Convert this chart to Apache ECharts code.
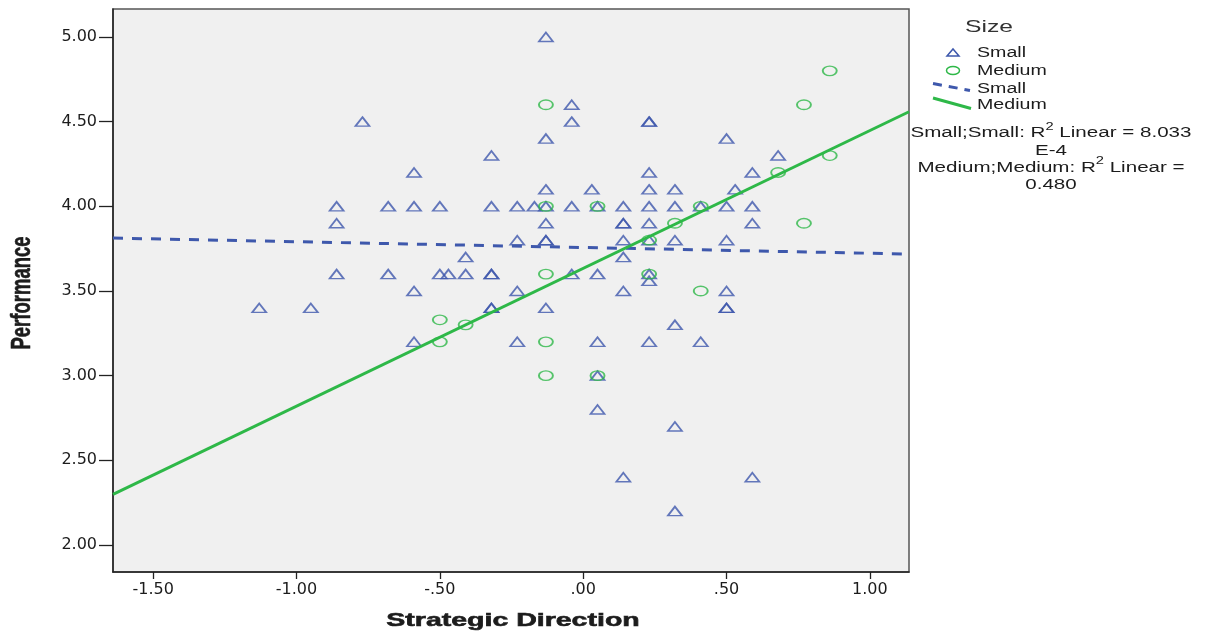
<!DOCTYPE html>
<html>
<head>
<meta charset="utf-8">
<script src="https://cdn.jsdelivr.net/npm/echarts@6/dist/echarts.min.js"></script>
<style>
html,body{margin:0;padding:0;background:#fff;}
#chart{width:1210px;height:633px;}
</style>
</head>
<body>
<div id="chart"></div>
<script>
// ---- data ----
const xTicks = [-1.5, -1.0, -0.5, 0.0, 0.5, 1.0];
const yTicks = [2.0, 2.5, 3.0, 3.5, 4.0, 4.5, 5.0];
const xRange = [-1.640, 1.1364];
const yRange = [1.8406, 5.1654];

// Size = Small (triangles)
const smallPoints = [
  [-0.13, 5.0],
  [-0.04, 4.6],
  [-0.77, 4.5], [-0.04, 4.5], [0.23, 4.5], [0.23, 4.5],
  [-0.13, 4.4], [0.50, 4.4],
  [-0.32, 4.3], [0.68, 4.3],
  [-0.59, 4.2], [0.23, 4.2], [0.59, 4.2],
  [-0.13, 4.1], [0.03, 4.1], [0.23, 4.1], [0.32, 4.1], [0.53, 4.1],
  [-0.86, 4.0], [-0.68, 4.0], [-0.59, 4.0], [-0.50, 4.0], [-0.32, 4.0], [-0.23, 4.0],
  [-0.17, 4.0], [-0.13, 4.0], [-0.04, 4.0], [0.05, 4.0], [0.14, 4.0], [0.23, 4.0],
  [0.32, 4.0], [0.41, 4.0], [0.50, 4.0], [0.59, 4.0],
  [-0.86, 3.9], [-0.13, 3.9], [0.14, 3.9], [0.14, 3.9], [0.23, 3.9], [0.59, 3.9],
  [-0.23, 3.8], [-0.13, 3.8], [-0.13, 3.8], [0.14, 3.8], [0.23, 3.8], [0.32, 3.8], [0.50, 3.8],
  [-0.41, 3.7], [0.14, 3.7],
  [-0.86, 3.6], [-0.68, 3.6], [-0.50, 3.6], [-0.47, 3.6], [-0.41, 3.6], [-0.32, 3.6],
  [-0.32, 3.6], [-0.04, 3.6], [0.05, 3.6], [0.23, 3.6],
  [0.23, 3.56],
  [-0.59, 3.5], [-0.23, 3.5], [0.14, 3.5], [0.50, 3.5],
  [-1.13, 3.4], [-0.95, 3.4], [-0.32, 3.4], [-0.32, 3.4], [-0.13, 3.4], [0.50, 3.4], [0.50, 3.4],
  [0.32, 3.3],
  [-0.59, 3.2], [-0.23, 3.2], [0.05, 3.2], [0.23, 3.2], [0.41, 3.2],
  [0.05, 3.0],
  [0.05, 2.8],
  [0.32, 2.7],
  [0.14, 2.4], [0.59, 2.4],
  [0.32, 2.2]
];

// Size = Medium (circles)
const mediumPoints = [
  [-0.50, 3.33], [-0.41, 3.30], [-0.50, 3.20],
  [-0.13, 4.6], [-0.13, 4.0], [-0.13, 3.6], [-0.13, 3.2], [-0.13, 3.0],
  [0.05, 4.0], [0.05, 3.0],
  [0.23, 3.8], [0.23, 3.6],
  [0.32, 3.9],
  [0.41, 4.0], [0.41, 3.5],
  [0.68, 4.2],
  [0.77, 4.6], [0.77, 3.9],
  [0.86, 4.8], [0.86, 4.3]
];

// Linear fit lines: [intercept, slope]
const fitSmall = [3.757, -0.0340];
const fitMedium = [3.634, 0.8137];

const legendTitle = 'Size';
const legendNames = ['Small', 'Medium', 'Small', 'Medium'];
const r2Lines = [
  ['Small;Small: R', '2', ' Linear = 8.033'],
  ['E-4', '', ''],
  ['Medium;Medium: R', '2', ' Linear ='],
  ['0.480', '', '']
];
const xName = 'Strategic Direction';
const yName = 'Performance';

// ---- styles ----
const BLUE = '#3E58AC';
const GREEN = '#2EB848';
const TXT = '#1c1c1c';
const SANS = '"Liberation Sans", Arial, sans-serif';
const TICKFONT = '"DejaVu Sans", sans-serif';

function fitLine(f) {
  return [[xRange[0], f[0] + f[1] * xRange[0]], [xRange[1], f[0] + f[1] * xRange[1]]];
}
function fmtX(v) {
  let s = Math.abs(v).toFixed(2);
  if (s.charAt(0) === '0') s = s.slice(1);
  return (v < 0 ? '-' : '') + s;
}

const chart = echarts.init(document.getElementById('chart'), null, {renderer: 'canvas'});

const SX = 1.45; // horizontal stretch of reference text

const graphics = [];
// axis names
graphics.push({
  type: 'text', x: 513, y: 621, scaleX: 1.5, z: 10,
  style: {text: xName, font: 'bold 19px ' + SANS, fill: TXT, stroke: TXT, lineWidth: 0.6,
    textAlign: 'center', textVerticalAlign: 'middle'}
});
graphics.push({
  type: 'text', x: 22, y: 293, rotation: Math.PI / 2, scaleY: 1.5, z: 10,
  style: {text: yName, font: 'bold 18.5px ' + SANS, fill: TXT, stroke: TXT, lineWidth: 0.4,
    textAlign: 'center', textVerticalAlign: 'middle'}
});
// legend title
graphics.push({
  type: 'text', x: 965, y: 27, scaleX: SX, z: 10,
  style: {text: legendTitle, font: '17px ' + SANS, fill: '#333', textAlign: 'left', textVerticalAlign: 'middle'}
});
// legend icons
graphics.push({type: 'polygon', z: 10, shape: {points: [[947, 56], [959, 56], [953, 49]]},
  style: {fill: 'none', stroke: BLUE, lineWidth: 1.5}});
graphics.push({type: 'ellipse', z: 10, shape: {cx: 953, cy: 70.5, rx: 6.5, ry: 4},
  style: {fill: 'none', stroke: GREEN, lineWidth: 1.5}});
graphics.push({type: 'line', z: 10, shape: {x1: 933, y1: 83.5, x2: 970, y2: 90.5},
  style: {stroke: BLUE, lineWidth: 3, lineDash: [9, 7]}});
graphics.push({type: 'line', z: 10, shape: {x1: 933, y1: 98, x2: 971, y2: 108.5},
  style: {stroke: GREEN, lineWidth: 3}});
const legendY = [53.3, 70.7, 88.7, 105.3];
legendNames.forEach(function (n, i) {
  graphics.push({
    type: 'text', x: 977, y: legendY[i], scaleX: 1.4, z: 10,
    style: {text: n, font: '14px ' + SANS, fill: TXT, textAlign: 'left', textVerticalAlign: 'middle'}
  });
});
// R^2 annotation
const r2Y = [131.5, 149, 165.7, 182.7];
r2Lines.forEach(function (parts, i) {
  let txt = '{n|' + parts[0] + '}';
  if (parts[1]) txt += '{s|' + parts[1] + '}';
  if (parts[2]) txt += '{n|' + parts[2] + '}';
  graphics.push({
    type: 'text', x: 1051, y: r2Y[i], scaleX: 1.47, z: 10,
    style: {
      text: txt, textAlign: 'center', textVerticalAlign: 'middle',
      rich: {
        n: {font: '14px ' + SANS, fill: TXT, lineHeight: 18, verticalAlign: 'bottom'},
        s: {font: '10px ' + SANS, fill: TXT, lineHeight: 10, verticalAlign: 'top'}
      }
    }
  });
});

const option = {
  animation: false,
  backgroundColor: '#ffffff',
  grid: {
    left: 113, right: 301, top: 9, bottom: 61,
    show: true, backgroundColor: '#f0f0f0', borderColor: '#555', borderWidth: 1.5,
    containLabel: false, outerBoundsMode: 'none'
  },
  xAxis: {
    type: 'value', min: xRange[0], max: xRange[1],
    splitLine: {show: false},
    axisLine: {show: true, onZero: false, lineStyle: {color: '#222', width: 1.5}},
    axisTick: {show: true, length: 7, lineStyle: {color: '#222', width: 1.3}, customValues: xTicks},
    axisLabel: {customValues: xTicks, formatter: fmtX, margin: 10, fontFamily: TICKFONT, fontSize: 16, color: TXT,
      showMinLabel: true, showMaxLabel: true}
  },
  yAxis: {
    type: 'value', min: yRange[0], max: yRange[1],
    splitLine: {show: false},
    axisLine: {show: true, onZero: false, lineStyle: {color: '#222', width: 1.5}},
    axisTick: {show: true, length: 14, lineStyle: {color: '#222', width: 1.3}, customValues: yTicks},
    axisLabel: {customValues: yTicks, formatter: function (v) { return v.toFixed(2); }, margin: 16,
      fontFamily: TICKFONT, fontSize: 16, color: TXT, showMinLabel: true, showMaxLabel: true}
  },
  series: [
    {
      name: 'Small', type: 'scatter', data: smallPoints, symbol: 'triangle', symbolSize: [14, 9],
      itemStyle: {color: 'rgba(0,0,0,0)', borderColor: BLUE, borderWidth: 1.7}, z: 3, silent: true
    },
    {
      name: 'Medium', type: 'scatter', data: mediumPoints, symbol: 'circle', symbolSize: [14, 9.5],
      itemStyle: {color: 'rgba(0,0,0,0)', borderColor: GREEN, borderWidth: 1.6}, z: 3, silent: true
    },
    {
      name: 'Small fit', type: 'line', data: fitLine(fitSmall), showSymbol: false, symbol: 'none',
      lineStyle: {color: BLUE, width: 3, type: [10, 9]}, z: 4, silent: true, clip: true
    },
    {
      name: 'Medium fit', type: 'line', data: fitLine(fitMedium), showSymbol: false, symbol: 'none',
      lineStyle: {color: GREEN, width: 3}, z: 5, silent: true, clip: true
    }
  ],
  graphic: graphics
};
chart.setOption(option);
</script>
</body>
</html>
